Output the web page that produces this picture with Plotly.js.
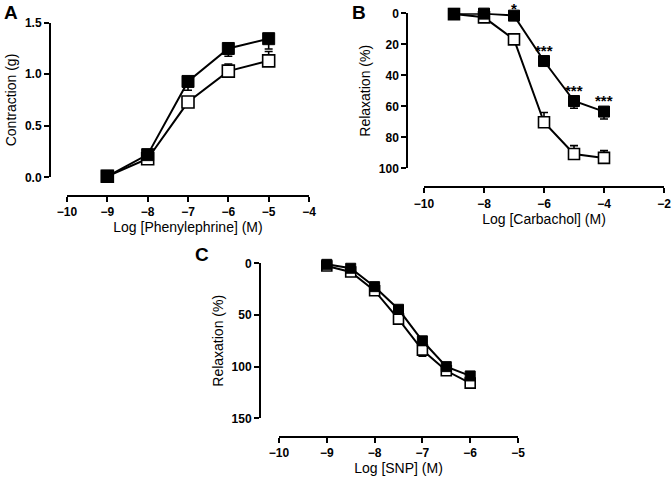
<!DOCTYPE html>
<html><head><meta charset="utf-8">
<script src="https://cdn.plot.ly/plotly-3.0.1.min.js"></script>
<style>html,body{margin:0;padding:0;background:#fff}#c{width:672px;height:478px}</style>
</head><body><div id="c"></div>
<script>
// Panel A: phenylephrine contraction
const xA = [-9, -8, -7, -6, -5];
const aFilled = [0.01, 0.22, 0.93, 1.25, 1.345];
const aFilledErrDown = [0.01, 0.02, 0.085, 0.075, 0.1];
const aOpen = [0.01, 0.18, 0.73, 1.03, 1.13];
const aOpenErrUp = [0.01, 0.02, 0.03, 0.07, 0.09];
// Panel B: carbachol relaxation
const xB = [-9, -8, -7, -6, -5, -4];
const bFilled = [0.4, 0.2, 1.5, 30.8, 56.6, 63.4];
const bFilledErr = [0.5, 0.5, 1.0, 2.5, 4.7, 4.8];
const bOpen = [0.5, 2.6, 16.8, 70.3, 90.8, 93.3];
const bOpenErr = [0.5, 1.0, 3.3, 6.3, 5.4, 4.7];
const bSig = ["", "", "*", "***", "***", "***"];
// Panel C: SNP relaxation
const xC = [-9, -8.5, -8, -7.5, -7, -6.5, -6];
const cFilled = [1, 4.8, 22.6, 44.5, 75, 100, 109];
const cFilledErr = [1, 1.5, 2, 2.5, 3, 2, 2];
const cOpen = [2.6, 8.4, 26.5, 54, 84, 104, 116];
const cOpenErr = [1, 1.5, 2, 3, 6, 2, 2];

const W = 672, H = 478;
const px = v => v / W;
const py = v => 1 - v / H;
const FONT = 'Liberation Sans, Arial, sans-serif';

function openTrace(x, y, xa, ya, errUp, errDown, size) {
  return {x, y, xaxis: xa, yaxis: ya, type: 'scatter', mode: 'lines+markers', cliponaxis: false,
    line: {color: '#000', width: 2},
    marker: {symbol: 'square', size: size, color: '#fff', line: {color: '#000', width: 1.6}},
    error_y: {type: 'data', symmetric: false, array: errUp, arrayminus: errDown, color: '#000', thickness: 1.6, width: 4},
    showlegend: false, hoverinfo: 'skip'};
}
function filledTrace(x, y, xa, ya, errUp, errDown, size) {
  return {x, y, xaxis: xa, yaxis: ya, type: 'scatter', mode: 'lines+markers', cliponaxis: false,
    line: {color: '#000', width: 2},
    marker: {symbol: 'square', size: size, color: '#000', line: {color: '#000', width: 1}},
    error_y: {type: 'data', symmetric: false, array: errUp, arrayminus: errDown, color: '#000', thickness: 1.6, width: 4},
    showlegend: false, hoverinfo: 'skip'};
}
const zeros = n => new Array(n).fill(0);

const traces = [
  openTrace(xA, aOpen, 'x', 'y', aOpenErrUp, zeros(5), 12),
  filledTrace(xA, aFilled, 'x', 'y', zeros(5), aFilledErrDown, 12),
  openTrace(xB, bOpen, 'x2', 'y2', zeros(6), bOpenErr, 11),
  filledTrace(xB, bFilled, 'x2', 'y2', bFilledErr, zeros(6), 11),
  openTrace(xC, cOpen, 'x3', 'y3', cOpenErr, zeros(7), 10),
  filledTrace(xC, cFilled, 'x3', 'y3', zeros(7), cFilledErr, 10)
];

const tickfont = {family: FONT, size: 12, color: '#000', weight: 'bold'};
const titlefont = {family: FONT, size: 14, color: '#000'};
function xax(domain, posY, range, dtick, title) {
  return {domain, anchor: 'free', position: posY, range, dtick, tick0: 0,
    showline: true, linewidth: 2, linecolor: '#000', ticks: 'outside', ticklen: 5, tickwidth: 2, tickcolor: '#000',
    showgrid: false, zeroline: false, tickfont, title: {text: title, font: titlefont, standoff: 3}};
}
function yax(domain, posX, range, dtick, title, fmt) {
  return {domain, anchor: 'free', position: posX, range, dtick, tick0: 0, tickformat: fmt,
    showline: true, linewidth: 2, linecolor: '#000', ticks: 'outside', ticklen: 5, tickwidth: 2, tickcolor: '#000',
    showgrid: false, zeroline: false, tickfont, title: {text: title, font: titlefont, standoff: 4}};
}

// significance stars above the filled markers of panel B
const sigAnnotations = bSig.map((t, i) => ({
  text: t, x: xB[i], y: bFilled[i], xref: 'x2', yref: 'y2', xanchor: 'center', yanchor: 'middle',
  borderpad: 0, yshift: t.length > 1 ? 11 : 7, showarrow: false,
  font: {family: FONT, size: 15, weight: 'bold', color: '#000'}
})).filter(a => a.text);

const letterFont = {family: FONT, size: 19, weight: 'bold', color: '#000'};
const layout = {
  width: W, height: H, margin: {l: 0, r: 0, t: 0, b: 0},
  paper_bgcolor: '#fff', plot_bgcolor: 'rgba(0,0,0,0)', showlegend: false,
  font: {family: FONT, color: '#000'},
  xaxis: xax([px(67), px(309)], py(195.5), [-10, -4], 1, 'Log [Phenylephrine] (M)'),
  yaxis: yax([py(177.3), py(22.7)], px(50), [0, 1.5], 0.5, 'Contraction (g)', '.1f'),
  xaxis2: xax([px(424), px(664)], py(187.3), [-10, -2], 2, 'Log [Carbachol] (M)'),
  yaxis2: yax([py(168.3), py(13.3)], px(407.3), [100, 0], 20, 'Relaxation (%)', ''),
  xaxis3: xax([px(279), px(518)], py(437), [-10, -5], 1, 'Log [SNP] (M)'),
  yaxis3: yax([py(418.3), py(263.3)], px(260), [150, 0], 50, 'Relaxation (%)', ''),
  annotations: [
    {text: 'A', x: px(2), y: py(0), xref: 'paper', yref: 'paper', xanchor: 'left', yanchor: 'top', showarrow: false, font: letterFont},
    {text: 'B', x: px(350), y: py(0), xref: 'paper', yref: 'paper', xanchor: 'left', yanchor: 'top', showarrow: false, font: letterFont},
    {text: 'C', x: px(193), y: py(242), xref: 'paper', yref: 'paper', xanchor: 'left', yanchor: 'top', showarrow: false, font: letterFont}
  ].concat(sigAnnotations)
};
Plotly.newPlot('c', traces, layout, {staticPlot: true, displayModeBar: false});
</script></body></html>
